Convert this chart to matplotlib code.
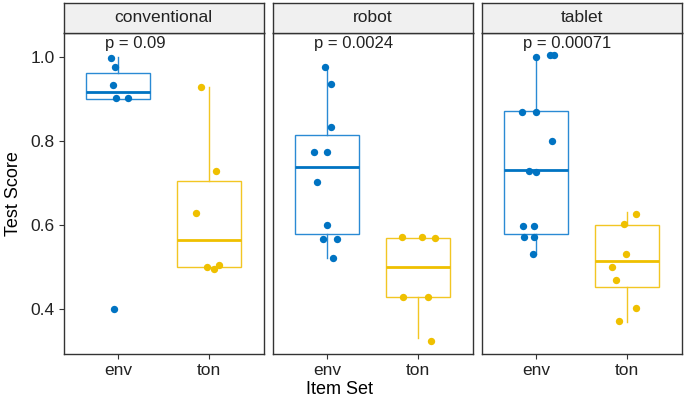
import matplotlib
matplotlib.use("Agg")
import matplotlib.pyplot as plt

plt.rcParams["font.family"] = ["Liberation Sans", "DejaVu Sans"]

panels = ["conventional", "robot", "tablet"]
groups = ["env", "ton"]
p_labels = ["p = 0.09", "p = 0.0024", "p = 0.00071"]

# test scores per panel / group (points as seen)
conv_env = [0.998, 0.975, 0.933, 0.902, 0.902, 0.40]
conv_ton = [0.928, 0.728, 0.628, 0.50, 0.495, 0.504]
robot_env = [0.975, 0.935, 0.834, 0.774, 0.774, 0.702, 0.599, 0.566, 0.566, 0.521]
robot_ton = [0.571, 0.571, 0.569, 0.428, 0.428, 0.325]
tablet_env = [1.0, 1.004, 1.004, 0.870, 0.870, 0.799, 0.729, 0.727, 0.598, 0.598, 0.571, 0.571, 0.530]
tablet_ton = [0.627, 0.602, 0.530, 0.499, 0.469, 0.403, 0.372]

# horizontal jitter of each point (category units)
conv_env_jit = [-0.08, -0.036, -0.058, -0.025, 0.11, -0.04]
conv_ton_jit = [-0.085, 0.074, -0.14, -0.022, 0.052, 0.107]
robot_env_jit = [-0.025, 0.047, 0.047, -0.14, -0.003, -0.107, -0.003, -0.047, 0.113, 0.066]
robot_ton_jit = [-0.18, 0.044, 0.19, -0.168, 0.11, 0.143]
tablet_env_jit = [0, 0.154, 0.198, -0.157, 0, 0.176, -0.074, 0, -0.14, -0.022, -0.132, -0.022, -0.033]
tablet_ton_jit = [0.102, -0.03, -0.014, -0.162, -0.121, 0.099, -0.085]

# box stats: whisker low, q1, median, q3, whisker high
conv_env_box = [0.901, 0.901, 0.916, 0.961, 1.0]
conv_ton_box = [0.499, 0.499, 0.564, 0.705, 0.928]
robot_env_box = [0.521, 0.579, 0.737, 0.815, 0.975]
robot_ton_box = [0.33, 0.429, 0.499, 0.570, 0.570]
tablet_env_box = [0.530, 0.579, 0.730, 0.871, 1.0]
tablet_ton_box = [0.37, 0.452, 0.515, 0.599, 0.63]

points = [[conv_env, conv_ton], [robot_env, robot_ton], [tablet_env, tablet_ton]]
jitter = [[conv_env_jit, conv_ton_jit], [robot_env_jit, robot_ton_jit],
          [tablet_env_jit, tablet_ton_jit]]
boxes = [[conv_env_box, conv_ton_box], [robot_env_box, robot_ton_box],
         [tablet_env_box, tablet_ton_box]]

colors = ["#0073C2", "#EFC000"]
line_colors = ["#2A8AD4", "#F2C623"]
edge = "#333333"
txt = "#222222"

fig = plt.figure(figsize=(6.85, 4), dpi=100)
W, H = 685, 400
lefts = [63.5, 272.5, 481.5]
pw = 200
top, bottom = 33, 354
strip_h = 30

for i, name in enumerate(panels):
    ax = fig.add_axes([lefts[i] / W, 1 - bottom / H, pw / W, (bottom - top) / H])
    for j, g in enumerate(groups):
        lo, q1, med, q3, hi = boxes[i][j]
        st = [dict(whislo=lo, q1=q1, med=med, q3=q3, whishi=hi, fliers=[])]
        ax.bxp(st, positions=[j + 1], widths=0.7, showcaps=False, showfliers=False,
               patch_artist=True,
               boxprops=dict(facecolor="white", edgecolor=line_colors[j], linewidth=1.0),
               whiskerprops=dict(color=line_colors[j], linewidth=1.0),
               medianprops=dict(color=colors[j], linewidth=2.0))
        xs = [j + 1 + d for d in jitter[i][j]]
        ax.scatter(xs, points[i][j], s=28, color=colors[j], zorder=5, linewidths=0)
    ax.set_xlim(0.4, 2.6)
    ax.set_ylim(0.293, 1.057)
    ax.set_xticks([1, 2])
    ax.set_xticklabels(groups, fontsize=12.5, color=txt)
    ax.set_yticks([0.4, 0.6, 0.8, 1.0])
    if i == 0:
        ax.set_yticklabels(["0.4", "0.6", "0.8", "1.0"], fontsize=12.5, color=txt)
        ax.set_ylabel("Test Score", fontsize=13, labelpad=6)
    else:
        ax.tick_params(axis="y", left=False, labelleft=False)
    ax.tick_params(direction="out", length=3.5, width=0.8, color=edge, pad=3)
    for s in ax.spines.values():
        s.set_color(edge)
        s.set_linewidth(1.0)
    ax.text(0.86, 1.033, p_labels[i], fontsize=12, ha="left", va="center", color=txt)

    # facet strip
    sax = fig.add_axes([lefts[i] / W, 1 - top / H, pw / W, strip_h / H])
    sax.set_xticks([])
    sax.set_yticks([])
    sax.set_facecolor("#F0F0F0")
    for s in sax.spines.values():
        s.set_color(edge)
        s.set_linewidth(1.0)
    sax.text(0.5, 0.5, name, fontsize=12.5, ha="center", va="center",
             transform=sax.transAxes, color=txt)

fig.text(340 / W, 1 - 390 / H, "Item Set", fontsize=13, ha="center", va="center")

fig.savefig("out.png", dpi=100)
